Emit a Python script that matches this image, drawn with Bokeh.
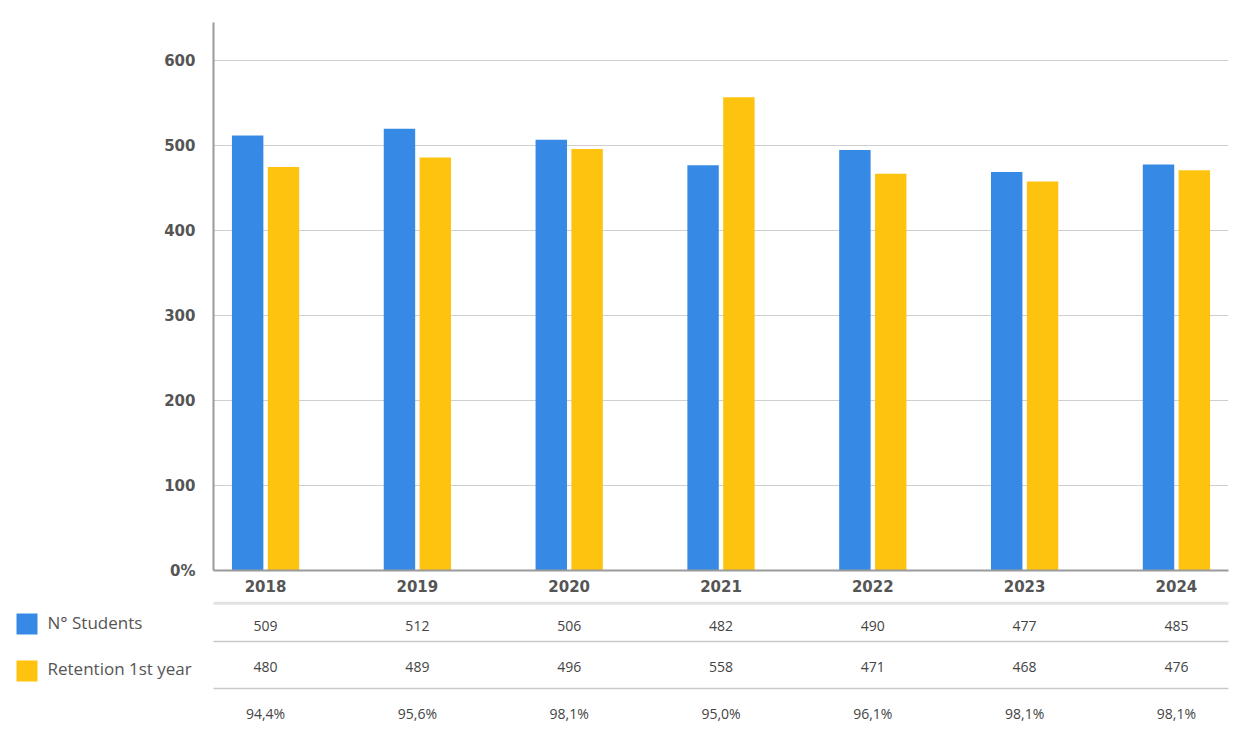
from bokeh.plotting import figure
from bokeh.models import ColumnDataSource, Range1d, FixedTicker
from bokeh.transform import dodge
from bokeh.core.properties import value
from bokeh.embed import file_html
from bokeh.resources import INLINE

# ---- data ----
years = ["2018", "2019", "2020", "2021", "2022", "2023", "2024"]
students_bar = [512, 520, 507, 477, 495, 469, 478]
retention_bar = [475, 486, 496, 557, 467, 458, 471]
students_tbl = ["509", "512", "506", "482", "490", "477", "485"]
retention_tbl = ["480", "489", "496", "558", "471", "468", "476"]
pct_tbl = ["94,4%", "95,6%", "98,1%", "95,0%", "96,1%", "98,1%", "98,1%"]
y_ticks = [0, 100, 200, 300, 400, 500, 600]
y_labels = {0: "0%"}
series_names = ["N° Students", "Retention 1st year"]

BLUE = "#368AE5"
YELLOW = "#FEC30F"
TXT = "#555555"

W, H_TOP, H_BOT = 1250, 600, 152
FL, FR = 213, 22           # frame borders of the chart
X0, X1 = -0.343, 6.343     # x range of the chart
PPU = (W - FL - FR) / (X1 - X0)

xs = list(range(len(years)))
src = ColumnDataSource(dict(x=xs, s=students_bar, r=retention_bar))

p = figure(width=W, height=H_TOP, output_backend="svg", toolbar_location=None,
           x_range=Range1d(X0, X1), y_range=Range1d(0, 645),
           min_border_left=FL, min_border_right=FR, min_border_top=22,
           min_border_bottom=30)
p.outline_line_color = None
p.background_fill_color = "white"
p.border_fill_color = "white"

p.vbar(x=dodge("x", -0.118, range=p.x_range), top="s", width=0.207, source=src,
       fill_color=BLUE, line_color=None)
p.vbar(x=dodge("x", 0.118, range=p.x_range), top="r", width=0.207, source=src,
       fill_color=YELLOW, line_color=None)

p.xgrid.visible = False
p.ygrid.ticker = FixedTicker(ticks=y_ticks[1:])
p.ygrid.grid_line_color = "#cfcfcf"
p.ygrid.grid_line_width = 1

p.yaxis.ticker = FixedTicker(ticks=y_ticks)
p.yaxis.major_label_overrides = y_labels
p.xaxis.ticker = FixedTicker(ticks=xs)
p.xaxis.major_label_overrides = {i: y for i, y in enumerate(years)}
for ax in (p.xaxis, p.yaxis):
    ax.axis_line_color = "#9a9a9a"
    ax.axis_line_width = 2
    ax.major_tick_line_color = None
    ax.minor_tick_line_color = None
    ax.major_tick_out = 0
    ax.major_tick_in = 0
    ax.major_label_text_font = "DejaVu Sans"
    ax.major_label_text_font_style = "bold"
    ax.major_label_text_color = TXT
p.yaxis.major_label_text_font_size = "15px"
p.yaxis.major_label_standoff = 18
p.xaxis.major_label_text_font_size = "15px"
p.xaxis.major_label_standoff = 9

# ---- table below (separate root, full-width frame) ----
tx0 = X0 - FL / PPU
tx1 = X1 + FR / PPU
q = figure(width=W, height=H_BOT, output_backend="svg", toolbar_location=None,
           x_range=Range1d(tx0, tx1), y_range=Range1d(H_BOT, 0), min_border=0)
q.axis.visible = False
q.grid.visible = False
q.outline_line_color = None
q.background_fill_color = "white"
q.border_fill_color = "white"

q.segment(x0=[X0], y0=[2.7], x1=[X1], y1=[2.7], line_color="#e2e2e2", line_width=3)
q.segment(x0=[X0, X0], y0=[41, 88], x1=[X1, X1], y1=[41, 88], line_color="#c9c9c9",
          line_width=1.3)

tsrc = ColumnDataSource(dict(x=xs, a=students_tbl, b=retention_tbl, c=pct_tbl))
for col, yy in (("a", 25), ("b", 66), ("c", 113)):
    q.text(x="x", y=yy, text=col, source=tsrc, text_align="center",
           text_baseline="middle", text_font=value("Open Sans"),
           text_font_size="14px", text_color="#444444")

lx = tx0 + 26.5 / PPU
q.scatter(x=[lx, lx], y=[23.5, 70.5], marker="square", size=21,
          fill_color=[BLUE, YELLOW], line_color=None)
q.text(x=[tx0 + 47 / PPU] * 2, y=[22, 68], text=series_names, text_align="left",
       text_baseline="middle", text_font=value("Open Sans"), text_font_size="17px",
       text_color=TXT)

open("out.html", "w").write(file_html([p, q], INLINE))
